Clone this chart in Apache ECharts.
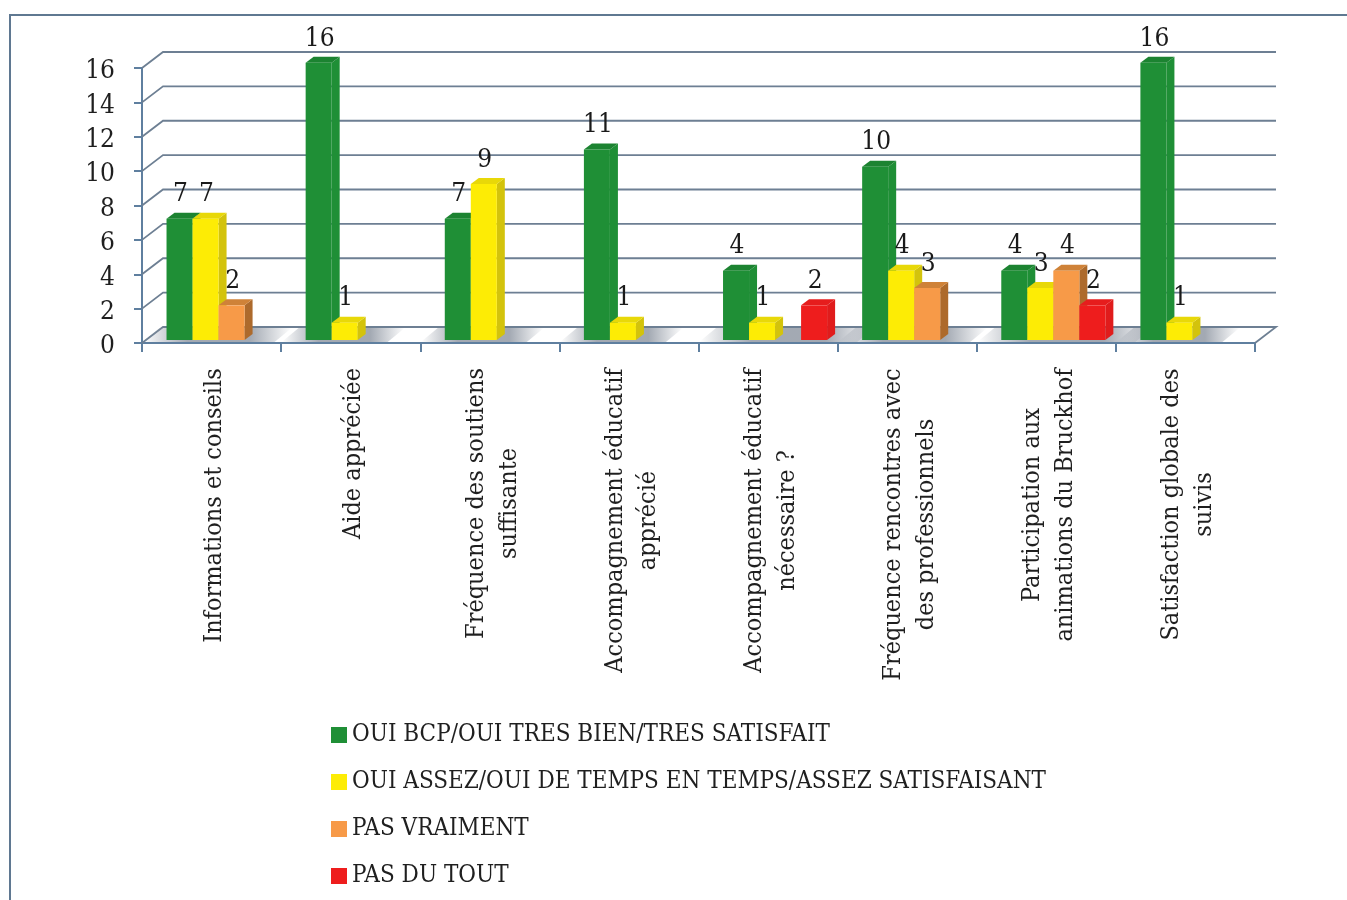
<!DOCTYPE html>
<html><head><meta charset="utf-8">
<style>html,body{margin:0;padding:0;background:#fff}#c{width:1347px;height:900px}</style>
<script src="https://cdn.jsdelivr.net/npm/echarts@6/dist/echarts.min.js"></script>
</head><body><div id="c"></div>
<script>
const categories = [
  "Informations et conseils",
  "Aide appréciée",
  "Fréquence des soutiens\nsuffisante",
  "Accompagnement éducatif\napprécié",
  "Accompagnement éducatif\nnécessaire ?",
  "Fréquence rencontres avec\ndes professionnels",
  "Participation aux\nanimations du Bruckhof",
  "Satisfaction globale des\nsuivis"
];
const seriesNames = [
  "OUI BCP/OUI TRES BIEN/TRES SATISFAIT",
  "OUI ASSEZ/OUI DE TEMPS EN TEMPS/ASSEZ SATISFAISANT",
  "PAS VRAIMENT",
  "PAS DU TOUT"
];
const tresBien = [7, 16, 7, 11, 4, 10, 4, 16];
const assez = [7, 1, 9, 1, 1, 4, 3, 1];
const pasVraiment = [2, null, null, null, null, 3, 4, null];
const pasDuTout = [null, null, null, null, 2, null, 2, null];
const yTicks = [0, 2, 4, 6, 8, 10, 12, 14, 16];

const FONT = '"DejaVu Serif Condensed","Liberation Serif",serif';
const FS = 25;
const WALL = {dx: 21, dy: -16};
const BAR = {dx: 8, dy: -6};
const palette = [
  {front: '#1f8f36', side: '#1f8f36', top: '#1c8331'},
  {front: '#fdec05', side: '#d3c30c', top: '#e8d808'},
  {front: '#f79a48', side: '#ad6a2c', top: '#cf8238'},
  {front: '#ee1d1d', side: '#e01c1c', top: '#e61d1d'}
];
const allSeries = [tresBien, assez, pasVraiment, pasDuTout];

const chart = echarts.init(document.getElementById('c'), null, {renderer: 'canvas'});

const mctx = document.createElement('canvas').getContext('2d');
mctx.font = FS + 'px ' + FONT;
const rich = {};
categories.forEach((c, i) => {
  const w = Math.max(...c.split('\n').map(l => mctx.measureText(l).width));
  rich['c' + i] = {width: Math.ceil(w), align: 'center', fontFamily: FONT, fontSize: FS, lineHeight: 33, color: '#1f1f1f'};
});

function barSeries(si) {
  return {
    type: 'custom', name: seriesNames[si], z: 5 + si,
    itemStyle: {color: palette[si].front},
    data: allSeries[si].map((v, i) => [i, v]),
    encode: {x: 0, y: 1},
    renderItem(params, api) {
      const v = api.value(1);
      if (v == null || isNaN(v)) return null;
      const idx = api.value(0);
      const c = api.coord([idx, v]);
      const base = api.coord([idx, 0]);
      const w = api.size([1, 0])[0] * 0.187;
      const x = c[0] + 7 + (si - 2) * w;
      const yB = base[1] - 3;
      const yT = c[1] - 3 - v * 0.14;
      const d = BAR, p = palette[si];
      return {type: 'group', children: [
        {type: 'polygon', shape: {points: [[x + w, yT], [x + w + d.dx, yT + d.dy], [x + w + d.dx, yB + d.dy], [x + w, yB]]}, style: {fill: p.side}},
        {type: 'polygon', shape: {points: [[x, yT], [x + d.dx, yT + d.dy], [x + w + d.dx, yT + d.dy], [x + w, yT]]}, style: {fill: p.top}},
        {type: 'rect', shape: {x: x, y: yT, width: w, height: yB - yT}, style: {fill: p.front}},
        {type: 'text', z2: 100, style: {x: x + w / 2 + 1, y: yT - 24, text: String(v), align: 'center', verticalAlign: 'middle', font: '26px ' + FONT, fill: '#1a1a1a'}}
      ]};
    }
  };
}

const wallSeries = {
  type: 'custom', name: 'wall', silent: true, z: 1,
  data: yTicks.map(v => [v]),
  encode: {y: 0},
  renderItem(params, api) {
    const v = api.value(0);
    const a = api.coord([0, v]);
    a[0] = params.coordSys.x;
    const xEnd = params.coordSys.x + params.coordSys.width;
    const style = {stroke: '#6d7f93', lineWidth: 1.8, fill: null};
    const pts = v === 0
      ? [[a[0], a[1]], [a[0] + WALL.dx, a[1] + WALL.dy], [xEnd + WALL.dx, a[1] + WALL.dy], [xEnd, a[1]]]
      : [[a[0], a[1]], [a[0] + WALL.dx, a[1] + WALL.dy], [xEnd + WALL.dx, a[1] + WALL.dy]];
    return {type: 'polyline', shape: {points: pts}, style: style};
  }
};

const shadowSeries = {
  type: 'custom', name: 'shadow', silent: true, z: 2,
  data: categories.map((c, i) => [i, Math.max(...allSeries.map((s, k) => s[i] != null ? k : 0))]),
  encode: {x: 0},
  renderItem(params, api) {
    const idx = api.value(0), last = api.value(1);
    const c = api.coord([idx, 0]);
    const w = api.size([1, 0])[0] * 0.187;
    const l = c[0] + 7 - 2 * w - 24;
    const r = c[0] + 7 + (last - 1) * w + BAR.dx + 22;
    const y = c[1] - 1;
    const fill = new echarts.graphic.LinearGradient(0, 0, 1, 0, [
      {offset: 0, color: 'rgba(140,148,160,0)'},
      {offset: 0.3, color: 'rgba(140,148,160,0.8)'},
      {offset: 0.72, color: 'rgba(140,148,160,0.8)'},
      {offset: 1, color: 'rgba(140,148,160,0)'}
    ]);
    return {type: 'polygon', shape: {points: [[l, y], [l + 17, y - 14], [r + 17, y - 14], [r, y]]}, style: {fill: fill}};
  }
};

chart.setOption({
  animation: false,
  backgroundColor: '#ffffff',
  textStyle: {fontFamily: FONT},
  graphic: [{
    type: 'polyline', silent: true, z: 0,
    shape: {points: [[10, 900], [10, 15], [1347, 15]]},
    style: {stroke: '#5f7891', lineWidth: 2, fill: null}
  }],
  grid: {left: 142, right: 92, top: 68, bottom: 557},
  legend: {
    orient: 'vertical', left: 326, top: 715, itemWidth: 16, itemHeight: 16, itemGap: 17,
    icon: 'rect', data: seriesNames,
    textStyle: {fontFamily: FONT, fontSize: 24, color: '#1f1f1f', lineHeight: 30}
  },
  xAxis: {
    type: 'category', data: categories, boundaryGap: true,
    axisLine: {lineStyle: {color: '#5f7f9f', width: 2}},
    axisTick: {show: true, alignWithLabel: false, length: 9, lineStyle: {color: '#5f7f9f', width: 2}},
    axisLabel: {
      interval: 0, rotate: 90, margin: 25, align: 'right', verticalAlign: 'middle', hideOverlap: false,
      padding: [6, 0, 0, 0],
      formatter: (val, i) => val.split('\n').map(l => `{c${i}|${l}}`).join('\n'),
      rich: rich
    }
  },
  yAxis: {
    type: 'value', min: 0, max: 16, interval: 2,
    axisLine: {show: true, lineStyle: {color: '#5f7f9f', width: 2}},
    axisTick: {show: true, length: 8, lineStyle: {color: '#5f7f9f', width: 2}},
    splitLine: {show: false},
    axisLabel: {
      margin: 27, formatter: v => `{n|${v}}`,
      rich: {n: {fontFamily: FONT, fontSize: 26, color: '#1f1f1f', lineHeight: 30, padding: [7, 0, 0, 0]}}
    }
  },
  series: [wallSeries, shadowSeries, barSeries(0), barSeries(1), barSeries(2), barSeries(3)]
});
</script></body></html>
